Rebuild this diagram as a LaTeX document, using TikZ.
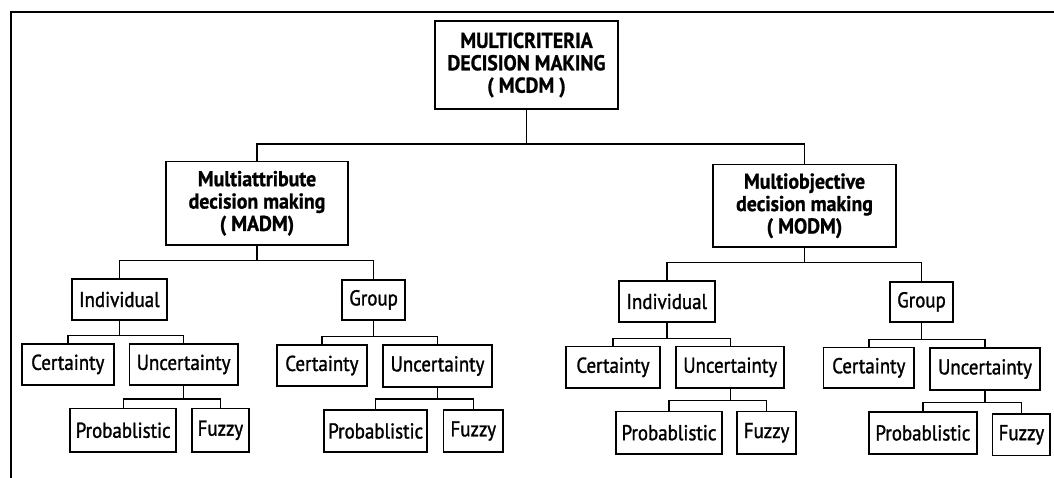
\documentclass[tikz,border=0pt]{standalone}
\usepackage{fontspec}
\setmainfont{PT Sans}[FakeStretch=0.93]
\newfontfamily\leaffont{PT Sans}[FakeStretch=0.88, FakeBold=1.3]
\newfontfamily\headfont{PT Sans}[FakeStretch=0.92, BoldFeatures={FakeBold=1}]
\usetikzlibrary{calc}
\tikzset{
  box/.style={draw, line width=1.8pt, inner sep=0pt, align=center,
    font=\leaffont\fontsize{21.5}{24}\selectfont},
  bigbox/.style={box, font=\headfont\bfseries\fontsize{21.5}{22.4}\selectfont},
  link/.style={line width=1.4pt},
  frame/.style={line width=2pt}
}
\newcommand{\conn}[4]{\draw[link] (#1.south) -- ++(0,#2) coordinate (#1bar) -| (#3.north);
  \draw[link] (#1bar) -| (#4.north);}
\begin{document}
\begin{tikzpicture}[x=1pt,y=-1pt]
\useasboundingbox (0,0) rectangle (1054,478);
\fill[white] (0,0) rectangle (1054,478);
\draw[frame] (1054,12.2) -- (11.2,12.2) -- (11.2,478);
% level 0
\node[bigbox, minimum width=183pt, minimum height=88pt] (mcdm) at (526.5,65) {MULTICRITERIA\\DECISION MAKING\\( MCDM )};
% level 1
\node[bigbox, minimum width=182pt, minimum height=83.4pt] (madm) at (257,203.3) {Multiattribute\\decision making\\( MADM)};
\node[bigbox, minimum width=183pt, minimum height=82.5pt] (modm) at (804.5,205.8) {Multiobjective\\decision making\\( MODM)};
% level 2
\node[box, minimum width=95.3pt, minimum height=41pt] (ind1) at (119.4,299.5) {Individual};
\node[box, minimum width=63.5pt, minimum height=40.3pt] (grp1) at (373.6,299.9) {Group};
\node[box, minimum width=96pt, minimum height=41pt] (ind3) at (666.8,301.5) {Individual};
\node[box, minimum width=63pt, minimum height=40.2pt] (grp3) at (921.5,301.9) {Group};
% level 3
\node[box, minimum width=92.4pt, minimum height=40.8pt] (cer1) at (67.8,364.4) {Certainty};
\node[box, minimum width=108.2pt, minimum height=41pt] (unc1) at (183.6,364.5) {Uncertainty};
\node[box, minimum width=89.8pt, minimum height=41pt] (cer2) at (321.9,365.5) {Certainty};
\node[box, minimum width=109pt, minimum height=42pt] (unc2) at (437.5,366) {Uncertainty};
\node[box, minimum width=93.3pt, minimum height=41.5pt] (cer3) at (613,367.3) {Certainty};
\node[box, minimum width=108.3pt, minimum height=41.5pt] (unc3) at (730.2,367.3) {Uncertainty};
\node[box, minimum width=90.5pt, minimum height=40.5pt] (cer4) at (868.8,367.8) {Certainty};
\node[box, minimum width=110pt, minimum height=42pt] (unc4) at (985,369) {Uncertainty};
% level 4
\node[box, minimum width=105.7pt, minimum height=43.5pt] (pro1) at (123.2,430.3) {Probablistic};
\node[box, minimum width=57.3pt, minimum height=43.5pt] (fuz1) at (220.4,430.3) {Fuzzy};
\node[box, minimum width=103.3pt, minimum height=42pt] (pro2) at (375.7,431) {Probablistic};
\node[box, minimum width=59.5pt, minimum height=42pt] (fuz2) at (473.3,431) {Fuzzy};
\node[box, minimum width=106.6pt, minimum height=42.3pt] (pro3) at (669,432.7) {Probablistic};
\node[box, minimum width=58.6pt, minimum height=42.3pt] (fuz3) at (766.6,432.7) {Fuzzy};
\node[box, minimum width=107.7pt, minimum height=41.8pt] (pro4) at (922.9,432.9) {Probablistic};
\node[box, minimum width=57.9pt, minimum height=41.5pt] (fuz4) at (1021.4,434.8) {Fuzzy};
% connectors
\conn{mcdm}{34.2}{madm}{modm}
\conn{madm}{14.7}{ind1}{grp1}
\conn{modm}{14.3}{ind3}{grp3}
\conn{ind1}{14.8}{cer1}{unc1}
\conn{grp1}{15.5}{cer2}{unc2}
\conn{ind3}{15.6}{cer3}{unc3}
\conn{grp3}{16.3}{cer4}{unc4}
\conn{unc1}{13}{pro1}{fuz1}
\conn{unc2}{11}{pro2}{fuz2}
\conn{unc3}{11.6}{pro3}{fuz3}
\conn{unc4}{11.3}{pro4}{fuz4}
\end{tikzpicture}
\end{document}
